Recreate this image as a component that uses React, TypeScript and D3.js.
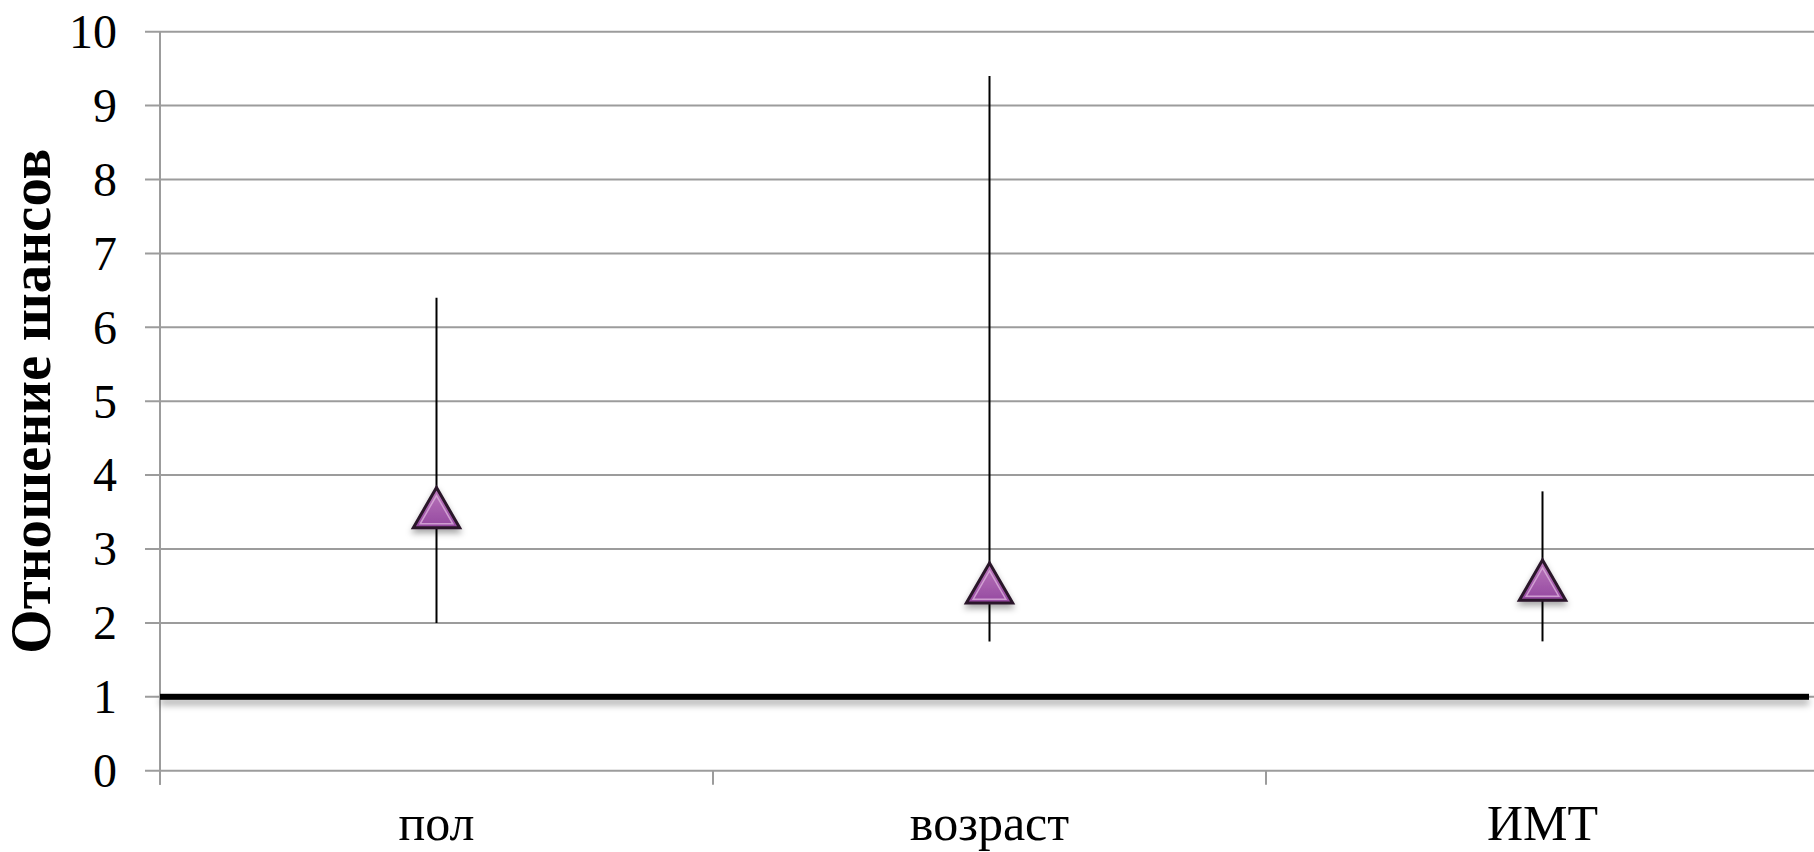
import React from "react";
import * as d3 from "d3";

const categories = ["пол", "возраст", "ИМТ"];
const oddsRatio = [3.55, 2.53, 2.57];
const ciUpper = [6.4, 9.4, 3.78];
const ciLower = [2.0, 1.75, 1.75];
const yTicks = [0, 1, 2, 3, 4, 5, 6, 7, 8, 9, 10];
const referenceValue = 1;
const yTitle = "Отношение шансов";

const W = 1814;
const H = 852;
const left = 160;
const right = 1819;
const top = 31.7;
const bottom = 770.7;

export default function App() {
  const x = d3.scaleBand<string>().domain(categories).range([left, right]).padding(0);
  const y = d3.scaleLinear().domain([0, 10]).range([bottom, top]);
  const bw = x.bandwidth();
  const tri = d3.symbol().type(d3.symbolTriangle).size(930);
  const triInner = d3.symbol().type(d3.symbolTriangle).size(460);
  const boundaries = [...categories.map((c) => x(c) as number), right];
  const font = "'Liberation Serif', 'Times New Roman', serif";

  return (
    <svg
      width={W}
      height={H}
      style={{ position: "fixed", left: 0, top: 0, background: "#fff" }}
      fontFamily={font}
    >
      <defs>
        <linearGradient id="triFill" x1="0" y1="0" x2="0" y2="1">
          <stop offset="0" stopColor="#bb78bb" />
          <stop offset="1" stopColor="#9448a0" />
        </linearGradient>
        <filter id="shadow" x="-50%" y="-50%" width="200%" height="200%">
          <feDropShadow dx="0" dy="4" stdDeviation="3" floodColor="#000" floodOpacity="0.35" />
        </filter>
        <filter id="lineShadow" filterUnits="userSpaceOnUse" x="0" y="600" width={W} height="200">
          <feDropShadow dx="0" dy="5" stdDeviation="3.5" floodColor="#000" floodOpacity="0.35" />
        </filter>
      </defs>

      {/* gridlines */}
      {yTicks.map((t) => (
        <line key={"g" + t} x1={left - 15} x2={W} y1={y(t)} y2={y(t)} stroke="#9c9c9c" strokeWidth={2} />
      ))}
      {/* y axis */}
      <line x1={left} x2={left} y1={y(10)} y2={y(0) + 14} stroke="#9c9c9c" strokeWidth={2} />
      {/* x ticks */}
      {boundaries.map((b, i) => (
        <line key={"xt" + i} x1={b} x2={b} y1={y(0)} y2={y(0) + 14} stroke="#9c9c9c" strokeWidth={2} />
      ))}

      {/* y tick labels */}
      {yTicks.map((t) => (
        <text key={"yl" + t} x={117} y={y(t)} dy="0.34em" textAnchor="end" fontSize={48} fill="#000">
          {t}
        </text>
      ))}

      {/* y title */}
      <text
        transform={`translate(50, ${(y(0) + y(10)) / 2}) rotate(-90)`}
        textAnchor="middle"
        fontSize={57}
        fontWeight="bold"
        fill="#000"
      >
        {yTitle}
      </text>

      {/* x labels */}
      {categories.map((c) => (
        <text key={"xl" + c} x={(x(c) as number) + bw / 2} y={840} textAnchor="middle" fontSize={50} fill="#000">
          {c}
        </text>
      ))}

      {/* reference line at 1 */}
      <rect
        x={left}
        width={right - 10 - left}
        y={y(referenceValue) - 3}
        height={6}
        fill="#000"
        filter="url(#lineShadow)"
      />

      {/* error bars */}
      {categories.map((c, i) => {
        const cx = (x(c) as number) + bw / 2;
        return (
          <line key={"eb" + c} x1={cx} x2={cx} y1={y(ciLower[i])} y2={y(ciUpper[i])} stroke="#000" strokeWidth={2} />
        );
      })}

      {/* markers */}
      {categories.map((c, i) => {
        const cx = (x(c) as number) + bw / 2;
        const cy = y(oddsRatio[i]);
        return (
          <g key={"m" + c} transform={`translate(${cx}, ${cy + 6})`}>
            <path d={tri() as string} fill="url(#triFill)" stroke="#2a152a" strokeWidth={3} strokeLinejoin="miter" filter="url(#shadow)" />
            <path d={triInner() as string} fill="none" stroke="#dcb0dc" strokeWidth={1.5} opacity={0.8} />
          </g>
        );
      })}
    </svg>
  );
}
